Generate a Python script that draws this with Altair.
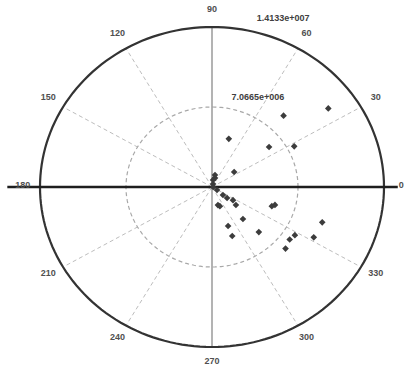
import altair as alt
import pandas as pd

# Full-scale radius of the polar plot and the ring labels
R_MAX = 1.4133e7
ring_labels = ["1.4133e+007", "7.0665e+006"]

# Measurements: phase angle (degrees) and magnitude
angles_deg = [36, 47, 72, 37, 28, 36, 73, 72, 327, 322, 322, 326, 321, 291,
              341, 343, 312, 291, 291, 314, 341, 332, 328, 324, 318, 77, 82,
              287, 0]
magnitudes = [11.81e6, 8.62e6, 4.47e6, 5.87e6, 7.65e6, 2.25e6, 0.83e6, 0.28e6,
              0.49e6, 1.14e6, 1.57e6, 2.08e6, 2.53e6, 1.81e6, 5.20e6, 5.41e6,
              3.80e6, 3.69e6, 4.64e6, 5.54e6, 9.58e6, 9.47e6, 8.03e6, 7.89e6,
              8.13e6, 1.09e6, 0.63e6, 1.67e6, 0.1e6]

# Angular grid
spoke_angles = [30, 60, 120, 150, 210, 240, 300, 330]
tick_angles = [0, 30, 60, 90, 120, 150, 180, 210, 240, 270, 300, 330]
tick_labels = ["0", "30", "60", "90", "120", "150", "180", "210", "240",
               "270", "300", "330"]

RAD = "PI / 180"
scale = alt.Scale(domain=[-R_MAX, R_MAX], nice=False, zero=False)
X = lambda f: alt.X(f, type="quantitative", scale=scale, axis=None)
Y = lambda f: alt.Y(f, type="quantitative", scale=scale, axis=None)


def ring(frac, **style):
    return (
        alt.Chart(alt.sequence(0, 362, 2, as_="deg"))
        .transform_calculate(
            x=f"{frac * R_MAX} * cos(datum.deg * {RAD})",
            y=f"{frac * R_MAX} * sin(datum.deg * {RAD})",
        )
        .mark_line(**style)
        .encode(x=X("x"), y=Y("y"), order="deg:Q")
    )


outer = ring(1.0, color="#333333", strokeWidth=2.2)
inner = ring(0.5, color="#a8a8a8", strokeWidth=1.2, strokeDash=[4, 3])

spokes = (
    alt.Chart(pd.DataFrame({"ang": spoke_angles}))
    .transform_calculate(
        x0="0", y0="0",
        x1=f"{R_MAX} * cos(datum.ang * {RAD})",
        y1=f"{R_MAX} * sin(datum.ang * {RAD})",
    )
    .mark_rule(color="#bdbdbd", strokeWidth=1, strokeDash=[4, 3])
    .encode(x=X("x0"), y=Y("y0"), x2="x1:Q", y2="y1:Q")
)

vertical = (
    alt.Chart(pd.DataFrame({"x": [0.0], "ya": [-R_MAX], "yb": [R_MAX]}))
    .mark_rule(color="#8a8a8a", strokeWidth=1.3)
    .encode(x=X("x"), y=Y("ya"), y2="yb:Q")
)

horizontal = (
    alt.Chart(pd.DataFrame({"xa": [-1.19 * R_MAX], "xb": [1.08 * R_MAX], "y": [0.0]}))
    .mark_rule(color="#1e1e1e", strokeWidth=2.5)
    .encode(x=X("xa"), x2="xb:Q", y=Y("y"))
)

angle_text = (
    alt.Chart(pd.DataFrame({"ang": tick_angles, "label": tick_labels}))
    .transform_calculate(
        x=f"1.1 * {R_MAX} * cos(datum.ang * {RAD})",
        y=f"1.1 * {R_MAX} * sin(datum.ang * {RAD})",
    )
    .mark_text(font="Liberation Sans", fontSize=9, fontWeight="bold",
               color="#505050", baseline="middle", dy=-2)
    .encode(x=X("x"), y=Y("y"), text="label:N")
)

ring_text = (
    alt.Chart(pd.DataFrame({
        "label": ring_labels,
        "x": [0.413 * R_MAX, 0.267 * R_MAX],
        "y": [1.056 * R_MAX, 0.5625 * R_MAX],
    }))
    .mark_text(font="Liberation Sans", fontSize=9, fontWeight="bold",
               color="#404040", baseline="middle")
    .encode(x=X("x"), y=Y("y"), text="label:N")
)

points = (
    alt.Chart(pd.DataFrame({"angle": angles_deg, "magnitude": magnitudes}))
    .transform_calculate(
        x=f"datum.magnitude * cos(datum.angle * {RAD})",
        y=f"datum.magnitude * sin(datum.angle * {RAD})",
    )
    .mark_point(shape="diamond", filled=True, size=44, color="#3c3c3c", opacity=1)
    .encode(x=X("x"), y=Y("y"))
)

chart = (
    alt.layer(spokes, inner, vertical, outer, horizontal, points, angle_text, ring_text)
    .properties(
        width=344, height=320,
        autosize=alt.AutoSizeParams(type="none"),
        padding={"left": 40, "top": 27, "right": 24, "bottom": 21},
        background="white",
    )
    .configure_view(stroke=None, clip=False)
)

chart.save("out.html", embed_options={"renderer": "svg", "actions": False})
